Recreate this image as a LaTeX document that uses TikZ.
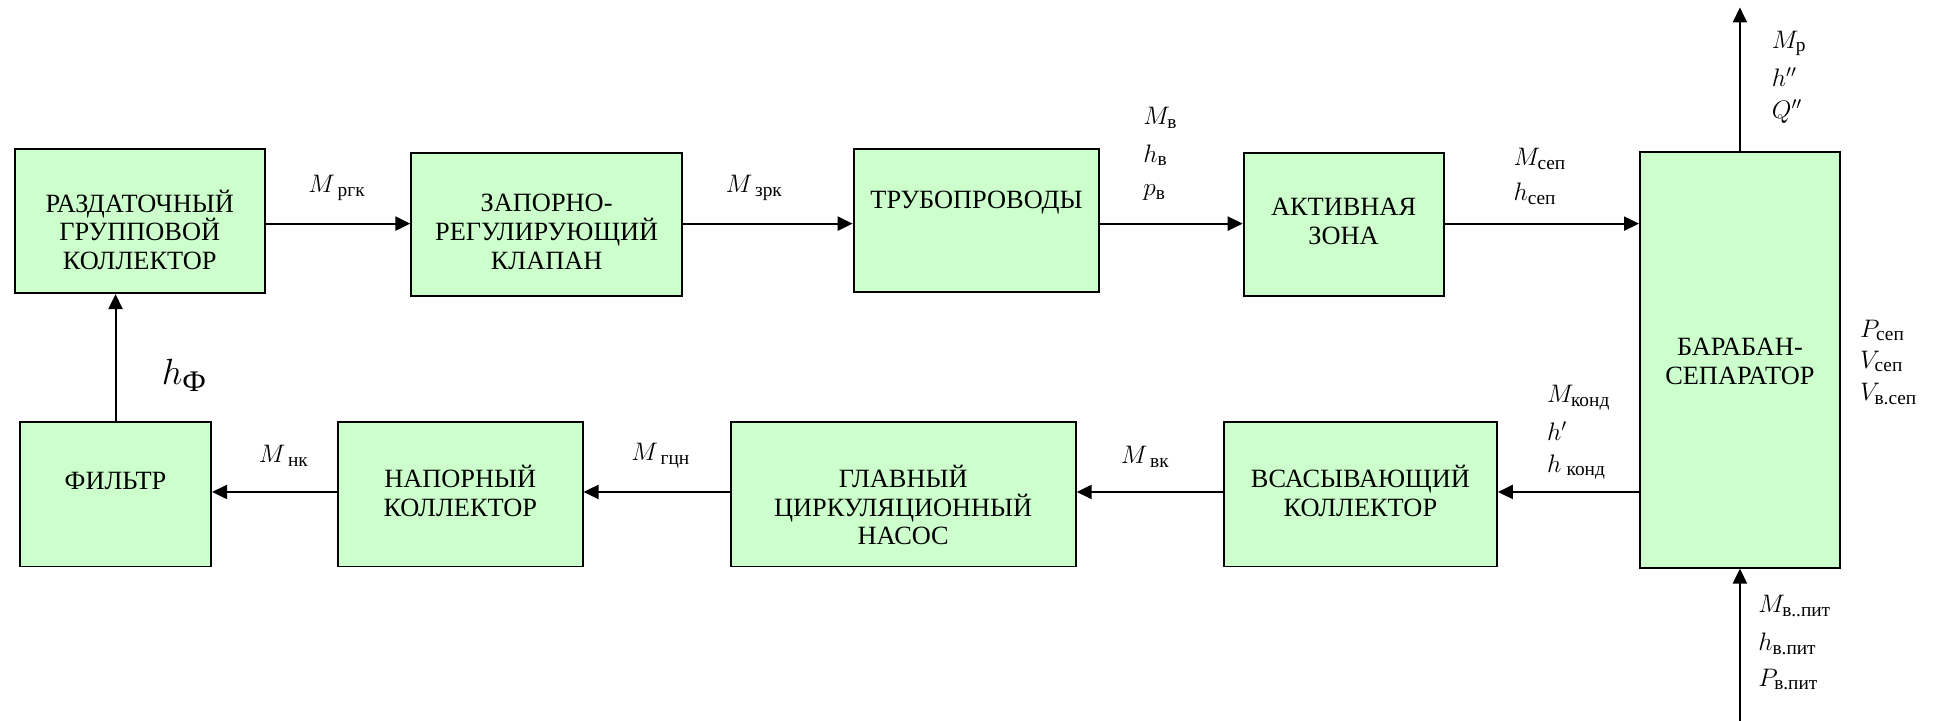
\documentclass[tikz,border=0pt]{standalone}
\usepackage{amsmath}
\usepackage{fontspec}
\setmainfont{Liberation Serif}
\usetikzlibrary{arrows.meta}
\definecolor{boxgreen}{HTML}{CCFFCC}
\newcommand\sbt[1]{\text{\fontsize{11}{12}\selectfont #1}}
\tikzset{
  sz/.style 2 args={minimum width=#1*0.7064pt, minimum height=#2*0.7064pt},
  unit/.style={draw=black, line width=1.1pt, fill=boxgreen, inner sep=0pt},
  unittext/.style={inner sep=0pt, align=center, font=\fontsize{15}{16.4}\selectfont},
  flow/.style={line width=1.1pt, -{Triangle[length=8.5pt,width=8pt]}},
  lbl/.style={anchor=west, inner sep=0pt, font=\fontsize{14}{16}\selectfont},
}
\begin{document}
\begin{tikzpicture}[x=0.024846cm, y=-0.024846cm]
\useasboundingbox (0,0) rectangle (1568,580);

% rows of the flow lines
\coordinate (toprow) at (0,180);
\coordinate (botrow) at (0,396);

% upper chain
\node[unit, sz={201}{116}] (b1) at (112.5,178) {};
\node[unit, sz={218}{115}] (b2) at (440,180.5) {};
\node[unit, sz={198}{115}] (b3) at (786,177.5) {};
\node[unit, sz={161}{115}] (b4) at (1081.5,180.5) {};
\node[unit, sz={161}{335}] (b5) at (1400.5,289.5) {};
\node[unittext] (b1t) at (112.5,185) {РАЗДАТОЧНЫЙ\\ГРУППОВОЙ\\КОЛЛЕКТОР};
\node[unittext] (b2t) at (440,186.5) {ЗАПОРНО-\\РЕГУЛИРУЮЩИЙ\\КЛАПАН};
\node[unittext] (b3t) at (786,163) {ТРУБОПРОВОДЫ};
\node[unittext] (b4t) at (1081.5,178) {АКТИВНАЯ\\ЗОНА};
\node[unittext] (b5t) at (1400.5,291) {БАРАБАН-\\СЕПАРАТОР};

% lower chain
\node[unit, sz={154}{116}] (f) at (93,398) {};
\node[unit, sz={197}{116}] (n) at (370.5,398) {};
\node[unit, sz={278}{116}] (g) at (727,398) {};
\node[unit, sz={220}{116}] (v) at (1095,398) {};
\node[unittext] (ft) at (93,387) {ФИЛЬТР};
\node[unittext] (nt) at (370.5,395.5) {НАПОРНЫЙ\\КОЛЛЕКТОР};
\node[unittext] (gt) at (727,406.5) {ГЛАВНЫЙ\\ЦИРКУЛЯЦИОННЫЙ\\НАСОС};
\node[unittext] (vt) at (1095,395) {ВСАСЫВАЮЩИЙ\\КОЛЛЕКТОР};

% flows
\draw[flow] (b1.east |- toprow) -- (b2.west |- toprow);
\draw[flow] (b2.east |- toprow) -- (b3.west |- toprow);
\draw[flow] (b3.east |- toprow) -- (b4.west |- toprow);
\draw[flow] (b4.east |- toprow) -- (b5.west |- toprow);
\draw[flow] (b5.west |- botrow) -- (v.east |- botrow);
\draw[flow] (v.west |- botrow) -- (g.east |- botrow);
\draw[flow] (g.west |- botrow) -- (n.east |- botrow);
\draw[flow] (n.west |- botrow) -- (f.east |- botrow);
\draw[flow] (f.north) -- (f.north |- b1.south);
\coordinate (steam) at (1400.5,6);
\coordinate (feed) at (1400.5,580);
\draw[flow] (b5.north) -- (b5.north |- steam);
\draw[flow] (b5.south |- feed) -- (b5.south);

% flow parameters
\node[lbl] (lrgk) at (248,151) {$M_{\hspace{3pt}\sbt{ргк}}$};
\node[lbl] (lzrk) at (584,151) {$M_{\hspace{3pt}\sbt{зрк}}$};
\node[lbl] (lmv) at (920,95) {$M_{\sbt{в}}$};
\node[lbl] (lhv) at (920,125) {$h_{\sbt{в}}$};
\node[lbl] (lpv) at (920,155) {$p_{\sbt{в}}$};
\node[lbl] (lmsep) at (1218,128) {$M_{\sbt{сеп}}$};
\node[lbl] (lhsep) at (1218,156) {$h_{\sbt{сеп}}$};
\node[lbl] (lmr) at (1426,35) {$M_{\sbt{р}}$};
\node[lbl] (lh2) at (1426,62) {$h''$};
\node[lbl] (lq2) at (1426,90) {$Q''$};
\node[lbl] (lpsep) at (1497,266) {$P_{\sbt{сеп}}$};
\node[lbl] (lvsep) at (1497,291) {$V_{\sbt{сеп}}$};
\node[lbl] (lvvsep) at (1497,317) {$V_{\sbt{в.сеп}}$};
\node[lbl] (lmkond) at (1245,320) {$M_{\sbt{конд}}$};
\node[lbl] (lh1) at (1245,347) {$h'$};
\node[lbl] (lhkond) at (1245,376) {$h_{\hspace{3pt}\sbt{конд}}$};
\node[lbl] (lmvk) at (902,368) {$M_{\hspace{3pt}\sbt{вк}}$};
\node[lbl] (lmgcn) at (508,367) {$M_{\hspace{3pt}\sbt{гцн}}$};
\node[lbl] (lmnk) at (208,367) {$M_{\hspace{3pt}\sbt{нк}}$};
\node[lbl, font=\fontsize{22}{24}\selectfont] (lhf) at (130,302) {$h_{\text{\fontsize{17}{18}\selectfont Ф}}$};
\node[lbl] (lmpit) at (1415,488) {$M_{\sbt{в..пит}}$};
\node[lbl] (lhpit) at (1415,518) {$h_{\sbt{в.пит}}$};
\node[lbl] (lppit) at (1415,547) {$P_{\sbt{в.пит}}$};
\end{tikzpicture}
\end{document}
